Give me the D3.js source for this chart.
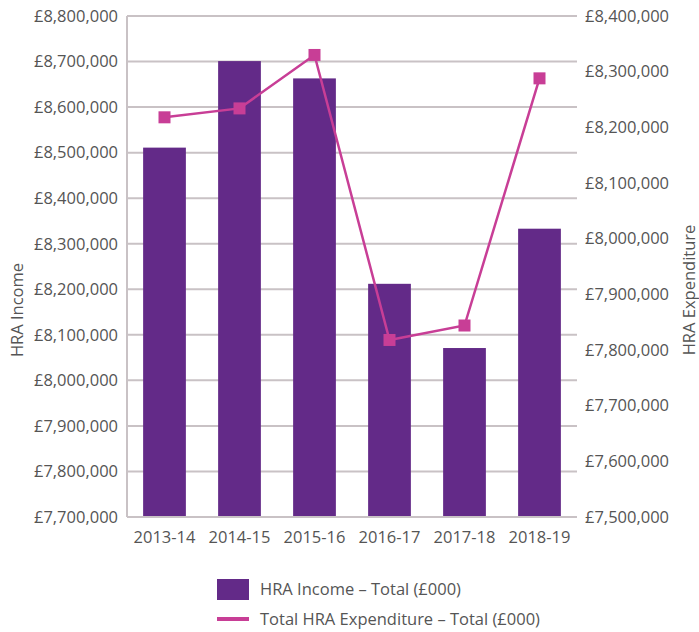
<!DOCTYPE html>
<html>
<head>
<meta charset="utf-8">
<script src="https://cdn.jsdelivr.net/npm/d3@7"></script>
<style>
  body { margin: 0; background: #fff; }
  text { font-family: "Open Sans", sans-serif; fill: #555; font-size: 16.5px; }
</style>
</head>
<body>
<div id="chart"></div>
<script>
// Data
const years = ["2013-14", "2014-15", "2015-16", "2016-17", "2017-18", "2018-19"];
const income = [8511000, 8701000, 8663000, 8212000, 8071000, 8333000];
const expenditure = [8218000, 8234000, 8330000, 7818000, 7844000, 8288000];
const leftTicks = d3.range(7700000, 8800001, 100000);
const rightTicks = d3.range(7500000, 8400001, 100000);

const W = 699, H = 632;
const m = { left: 127, right: 122, top: 16, bottom: 115 };
const iw = W - m.left - m.right;
const ih = H - m.top - m.bottom;

const svg = d3.select("#chart").append("svg")
    .attr("width", W)
    .attr("height", H);

const g = svg.append("g").attr("transform", `translate(${m.left},${m.top})`);

const x = d3.scaleBand().domain(years).range([0, iw]).paddingInner(0.43).paddingOuter(0.215);
const yL = d3.scaleLinear().domain([7700000, 8800000]).range([ih, 0]);
const yR = d3.scaleLinear().domain([7500000, 8400000]).range([ih, 0]);
const money = v => "£" + d3.format(",")(v);

// gridlines
g.selectAll(".grid").data(leftTicks).enter().append("line")
    .attr("x1", 0).attr("x2", iw)
    .attr("y1", d => yL(d)).attr("y2", d => yL(d))
    .attr("stroke", "#c9c2c5").attr("stroke-width", 2);

// left axis line
g.append("line").attr("x1", 0).attr("x2", 0).attr("y1", 0).attr("y2", ih)
    .attr("stroke", "#c9c2c5").attr("stroke-width", 2);

// bars
g.selectAll(".bar").data(income).enter().append("rect")
    .attr("x", (d, i) => x(years[i]))
    .attr("width", x.bandwidth())
    .attr("y", d => yL(d))
    .attr("height", d => ih - yL(d))
    .attr("fill", "#632a88");

// bottom axis line on top
g.append("line").attr("x1", 0).attr("x2", iw).attr("y1", ih).attr("y2", ih)
    .attr("stroke", "#c9c2c5").attr("stroke-width", 2);

// line series
const line = d3.line()
    .x((d, i) => x(years[i]) + x.bandwidth() / 2)
    .y(d => yR(d));
g.append("path").datum(expenditure)
    .attr("d", line)
    .attr("fill", "none")
    .attr("stroke", "#c83e96")
    .attr("stroke-width", 2.5);
g.selectAll(".pt").data(expenditure).enter().append("rect")
    .attr("x", (d, i) => x(years[i]) + x.bandwidth() / 2 - 6)
    .attr("y", d => yR(d) - 6)
    .attr("width", 12).attr("height", 12)
    .attr("fill", "#c83e96");

// tick labels
g.selectAll(".lt").data(leftTicks).enter().append("text")
    .attr("x", -9).attr("y", d => yL(d)).attr("dy", "0.35em")
    .attr("text-anchor", "end")
    .text(money);
g.selectAll(".rt").data(rightTicks).enter().append("text")
    .attr("x", iw + 8).attr("y", d => yR(d)).attr("dy", "0.35em")
    .attr("text-anchor", "start")
    .text(money);
g.selectAll(".xt").data(years).enter().append("text")
    .attr("x", d => x(d) + x.bandwidth() / 2).attr("y", ih + 20).attr("dy", "0.35em")
    .attr("text-anchor", "middle")
    .text(d => d);

// axis titles
svg.append("text")
    .attr("transform", "translate(17,310) rotate(-90)")
    .attr("text-anchor", "middle").attr("dy", "0.35em")
    .text("HRA Income");
svg.append("text")
    .attr("transform", "translate(689,290) rotate(-90)")
    .attr("text-anchor", "middle").attr("dy", "0.35em")
    .text("HRA Expenditure");

// legend
const lg = svg.append("g").attr("transform", "translate(217,579)");
lg.append("rect").attr("width", 32).attr("height", 21).attr("fill", "#632a88");
lg.append("text").attr("x", 43).attr("y", 10.5).attr("dy", "0.35em")
    .text("HRA Income – Total (£000)");
lg.append("line").attr("x1", 0).attr("x2", 32).attr("y1", 40).attr("y2", 40)
    .attr("stroke", "#c83e96").attr("stroke-width", 4);
lg.append("text").attr("x", 43).attr("y", 40).attr("dy", "0.35em")
    .text("Total HRA Expenditure – Total (£000)");
</script>
</body>
</html>
